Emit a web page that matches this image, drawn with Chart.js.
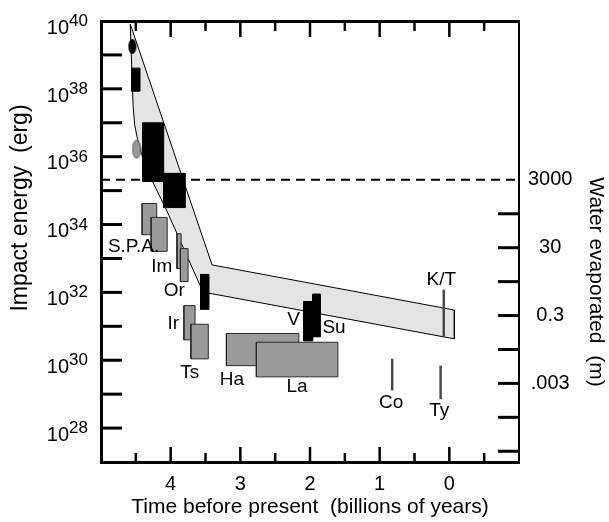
<!DOCTYPE html>
<html>
<head>
<meta charset="utf-8">
<script src="https://cdn.jsdelivr.net/npm/chart.js@4"></script>
<style>html,body{margin:0;padding:0;background:#fff}canvas{display:block}</style>
</head>
<body>
<canvas id="c" width="609" height="522"></canvas>
<script>
// ---------------- data (time in Gyr before present, energy as log10 erg) ----------------
const blackBoxT0    = [4.56, 4.40, 4.10, 3.57, 2.09, 1.96];
const blackBoxT1    = [4.44, 4.10, 3.79, 3.45, 1.96, 1.85];
const blackBoxLogE0 = [37.93, 35.27, 34.50, 31.50, 30.57, 30.69];
const blackBoxLogE1 = [38.61, 37.00, 35.51, 32.53, 31.73, 31.95];

const grayBoxT0    = [4.41, 4.28, 3.91, 3.86, 3.81, 3.71, 3.20, 2.77];
const grayBoxT1    = [4.20, 4.05, 3.85, 3.75, 3.65, 3.46, 2.16, 1.60];
const grayBoxLogE0 = [33.70, 33.21, 32.70, 32.32, 30.60, 30.04, 29.84, 29.51];
const grayBoxLogE1 = [34.62, 34.21, 33.73, 33.29, 31.61, 31.06, 30.79, 30.53];

const craterLineT     = [0.08, 0.82, 0.125];      // K/T, Co, Ty
const craterLineLogE0 = [30.71, 29.11, 28.85];
const craterLineLogE1 = [32.08, 30.04, 29.84];

const blackEllipseT = [4.55];
const blackEllipseLogE = [39.25];
const grayEllipseT = [4.49];
const grayEllipseLogE = [36.22];

const bandUpperT    = [4.58, 3.406, -0.072];
const bandUpperLogE = [39.91, 32.81, 31.48];
const bandLowerT    = [4.58, 4.540, 4.518, 4.475, 4.417, 4.259, 4.058, 3.583, 3.511, -0.072];
const bandLowerLogE = [39.91, 37.53, 36.95, 36.51, 36.07, 35.26, 34.42, 32.23, 32.00, 30.63];

const oceanWater = 3000;         // m of water evaporated (dashed line)
const oceanLogE  = 35.317;       // energy for 3000 m

const labelText = ['S.P.A.', 'Im', 'Or', 'Ir', 'Ts', 'Ha', 'La', 'V', 'Su', 'K/T', 'Co', 'Ty'];
const labelT    = [4.532, 4.129, 3.947, 3.961, 3.727, 3.122, 2.187, 2.235, 1.655, 0.115, 0.835, 0.144];
const labelLogE = [33.34, 32.76, 32.06, 31.07, 29.62, 29.43, 29.21, 31.19, 30.95, 32.38, 28.74, 28.51];

const timeTicks  = [4.5, 4, 3.5, 3, 2.5, 2, 1.5, 1, 0.5, 0, -0.5];
const timeLabels = [4, 3, 2, 1, 0];
const energyTickExponents  = [28, 29, 30, 31, 32, 33, 34, 35, 36, 37, 38, 39];
const energyLabelExponents = [28, 30, 32, 34, 36, 38, 40];
const waterTickMarks   = [300, 30, 3, 0.3, 0.03, 0.003, 0.0003, 0.00003];
const waterLabelValues = [3000, 30, 0.3, 0.003];
const waterLabelText   = ['3000', '30', '0.3', '.003'];

// ---------------- chart ----------------
const FONT = "'Liberation Sans', Arial, Helvetica, sans-serif";
const E = v => Math.pow(10, v);
const waterPerErg = oceanWater / E(oceanLogE);

function polyDS(points, fill, stroke, bw, order) {
  return { data: points, showLine: true, fill: 'shape', backgroundColor: fill,
           borderColor: stroke, borderWidth: bw, pointRadius: 0, pointHoverRadius: 0,
           tension: 0, order: order };
}
function boxPoints(t0, t1, e0, e1) {
  return [{x: t0, y: E(e0)}, {x: t1, y: E(e0)}, {x: t1, y: E(e1)}, {x: t0, y: E(e1)}, {x: t0, y: E(e0)}];
}
function ellipseImage(w, h, fill, stroke) {
  const c = document.createElement('canvas');
  c.width = w + 2; c.height = h + 2;
  const g = c.getContext('2d');
  g.beginPath();
  g.ellipse((w + 2) / 2, (h + 2) / 2, w / 2, h / 2, 0, 0, 2 * Math.PI);
  g.fillStyle = fill; g.fill();
  if (stroke) { g.strokeStyle = stroke; g.lineWidth = 1; g.stroke(); }
  return c;
}

const datasets = [];
const bandPts = bandUpperT.map((t, i) => ({x: t, y: E(bandUpperLogE[i])}))
  .concat(bandLowerT.map((t, i) => ({x: t, y: E(bandLowerLogE[i])})).reverse());
datasets.push(polyDS(bandPts, '#e4e4e4', '#000', 1, 500));

datasets.push({ data: [{x: 5, y: E(oceanLogE)}, {x: -1, y: E(oceanLogE)}], showLine: true,
  borderColor: '#000', borderWidth: 2, borderDash: [9, 6], pointRadius: 0, order: 400 });

grayBoxT0.forEach((t, i) => datasets.push(polyDS(
  boxPoints(t, grayBoxT1[i], grayBoxLogE0[i], grayBoxLogE1[i]), '#9a9a9a', '#2a2a2a', 1, 300 - i)));
blackBoxT0.forEach((t, i) => datasets.push(polyDS(
  boxPoints(t, blackBoxT1[i], blackBoxLogE0[i], blackBoxLogE1[i]), '#000', '#000', 1, 200 - i)));
craterLineT.forEach((t, i) => datasets.push({
  data: [{x: t, y: E(craterLineLogE0[i])}, {x: t, y: E(craterLineLogE1[i])}], showLine: true,
  borderColor: '#4a4a4a', borderWidth: 2.5, pointRadius: 0, order: 100 - i }));
datasets.push({ data: blackEllipseT.map((t, i) => ({x: t, y: E(blackEllipseLogE[i])})),
  pointStyle: ellipseImage(8, 15, '#000', null), pointRadius: 5, order: 50 });
datasets.push({ data: grayEllipseT.map((t, i) => ({x: t, y: E(grayEllipseLogE[i])})),
  pointStyle: ellipseImage(8, 18, '#9a9a9a', '#555'), pointRadius: 5, order: 49 });

const decor = {
  id: 'decor',
  afterDraw(chart) {
    const {ctx, chartArea: a, scales} = chart;
    const xs = scales.x, ys = scales.y, ws = scales.water;
    const seg = (x1, y1, x2, y2) => { ctx.beginPath(); ctx.moveTo(x1, y1); ctx.lineTo(x2, y2); ctx.stroke(); };
    ctx.save();
    ctx.strokeStyle = '#000';
    ctx.lineCap = 'butt';
    ctx.lineWidth = 3;
    energyTickExponents.forEach(n => { const py = ys.getPixelForValue(E(n)); seg(a.left, py, a.left + 21, py); });
    waterTickMarks.forEach(v => { const py = ws.getPixelForValue(v); seg(a.right - 21, py, a.right, py); });
    ctx.lineWidth = 2.5;
    timeTicks.forEach(t => {
      const px = xs.getPixelForValue(t);
      const major = timeLabels.includes(t);
      seg(px, a.bottom, px, a.bottom - (major ? 15 : 9));
      seg(px, a.top, px, a.top + (major ? 16 : 10));
    });
    // left tick labels 10^n
    ctx.fillStyle = '#000';
    ctx.textBaseline = 'alphabetic';
    ctx.textAlign = 'left';
    energyLabelExponents.forEach(n => {
      const py = ys.getPixelForValue(E(n));
      ctx.font = '20px ' + FONT;
      const wb = ctx.measureText('10').width;
      ctx.font = '17px ' + FONT;
      const we = ctx.measureText(String(n)).width;
      const x0 = a.left - 13 - wb - we;
      ctx.font = '20px ' + FONT;
      ctx.fillText('10', x0, py + 12.8);
      ctx.font = '17px ' + FONT;
      ctx.fillText(String(n), x0 + wb, py + 5);
    });
    // annotation labels
    ctx.font = '19px ' + FONT;
    ctx.textAlign = 'center';
    ctx.textBaseline = 'middle';
    labelText.forEach((s, i) => {
      ctx.fillText(s, xs.getPixelForValue(labelT[i]), ys.getPixelForValue(E(labelLogE[i])));
    });
    // axis titles (vertical)
    ctx.textBaseline = 'alphabetic';
    ctx.save();
    ctx.font = '23px ' + FONT;
    ctx.translate(27, 208);
    ctx.rotate(-Math.PI / 2);
    ctx.fillText('Impact energy  (erg)', 0, 0);
    ctx.restore();
    ctx.save();
    ctx.font = '21px ' + FONT;
    ctx.translate(590, 282);
    ctx.rotate(Math.PI / 2);
    ctx.fillText('Water evaporated  (m)', 0, 0);
    ctx.restore();
    ctx.restore();
  }
};

new Chart(document.getElementById('c'), {
  type: 'scatter',
  data: { datasets },
  options: {
    responsive: false,
    devicePixelRatio: 1,
    animation: false,
    layout: { padding: 0 },
    plugins: { legend: { display: false }, tooltip: { enabled: false } },
    events: [],
    scales: {
      x: {
        type: 'linear', position: 'bottom', min: -1, max: 5, reverse: true,
        afterBuildTicks: s => { s.ticks = timeTicks.map(v => ({value: v})); },
        afterFit: s => { s.height = 60; },
        grid: { display: false, drawTicks: false },
        border: { display: true, width: 3, color: '#000' },
        ticks: { autoSkip: false, maxRotation: 0, padding: 10, color: '#000',
                 font: { family: FONT, size: 20 },
                 callback: v => timeLabels.includes(v) ? String(v) : '' },
        title: { display: true, text: 'Time before present  (billions of years)', color: '#000',
                 font: { family: FONT, size: 21 }, padding: { top: 0, bottom: 2 } }
      },
      top: {
        type: 'linear', position: 'top', min: -1, max: 5, reverse: true,
        afterFit: s => { s.height = 15; },
        grid: { display: false, drawTicks: false },
        border: { display: true, width: 3, color: '#000' },
        ticks: { display: false }
      },
      y: {
        type: 'logarithmic', position: 'left', min: E(27), max: E(40),
        afterBuildTicks: s => { s.ticks = energyTickExponents.map(n => ({value: E(n)})); },
        afterFit: s => { s.width = 101; },
        grid: { display: false, drawTicks: false },
        border: { display: true, width: 3, color: '#000' },
        ticks: { display: false }
      },
      water: {
        type: 'logarithmic', position: 'right', min: E(27) * waterPerErg, max: E(40) * waterPerErg,
        afterBuildTicks: s => { s.ticks = waterTickMarks.concat([oceanWater]).map(v => ({value: v})); },
        afterFit: s => { s.width = 90; },
        grid: { display: false, drawTicks: false },
        border: { display: true, width: 2, color: '#000' },
        ticks: { padding: 9, crossAlign: 'center', color: '#000', autoSkip: false,
                 font: { family: FONT, size: 20 },
                 callback: v => { const k = waterLabelValues.indexOf(v); return k >= 0 ? waterLabelText[k] : ''; } }
      }
    }
  },
  plugins: [decor]
});
</script>
</body>
</html>
